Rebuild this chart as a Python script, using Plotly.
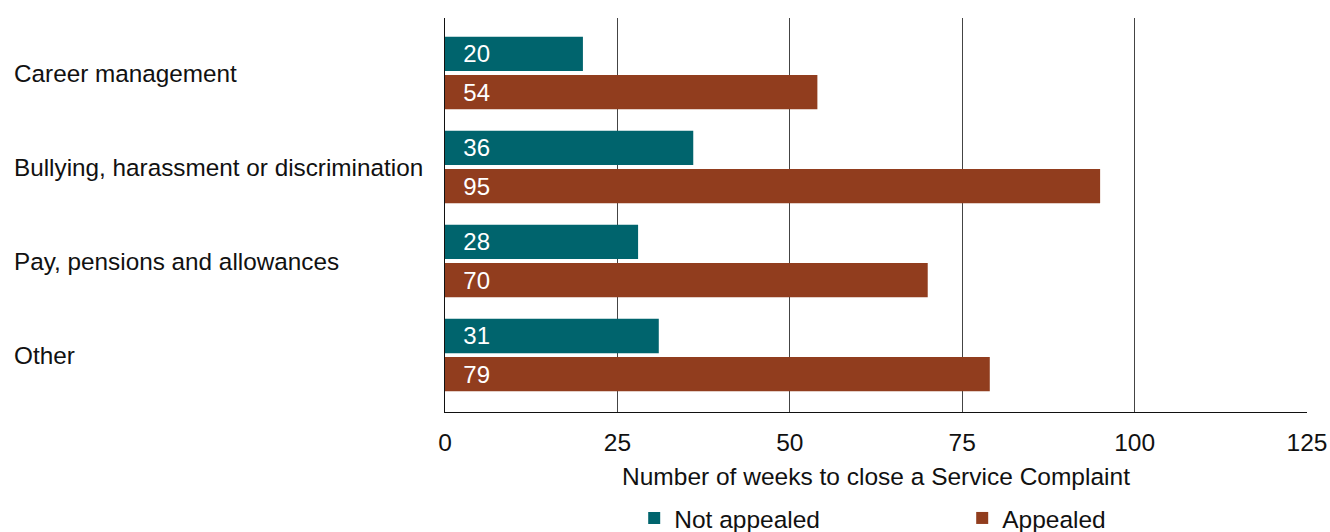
import plotly.graph_objects as go

categories = ["Career management", "Bullying, harassment or discrimination",
              "Pay, pensions and allowances", "Other"]
not_appealed = [20, 36, 28, 31]
appealed = [54, 95, 70, 79]
x_ticks = [0, 25, 50, 75, 100, 125]

TEAL = "#00646d"
BROWN = "#913d1e"
FONT = "Liberation Sans, Arial, sans-serif"
PAD = "\u00a0\u00a0\u200a"

fig = go.Figure()
fig.add_trace(go.Bar(
    y=categories, x=not_appealed, orientation="h", name="Not appealed",
    marker=dict(color=TEAL, line=dict(width=0)),
    text=[PAD + str(v) for v in not_appealed], textposition="inside",
    insidetextanchor="start", textangle=0, constraintext="none",
    textfont=dict(color="white", size=24, family=FONT),
))
fig.add_trace(go.Bar(
    y=categories, x=appealed, orientation="h", name="Appealed",
    marker=dict(color=BROWN, line=dict(width=0)),
    text=[PAD + str(v) for v in appealed], textposition="inside",
    insidetextanchor="start", textangle=0, constraintext="none",
    textfont=dict(color="white", size=24, family=FONT),
))

for i, c in enumerate(categories):
    fig.add_annotation(x=(12 - 445) / 862, xref="paper", y=c, yref="y", text=c,
                       showarrow=False, xanchor="left", yanchor="middle",
                       font=dict(size=24.3, color="#111111", family=FONT))

fig.update_layout(
    width=1330, height=532,
    margin=dict(l=445, r=23, t=18, b=120, autoexpand=False),
    paper_bgcolor="white", plot_bgcolor="white",
    barmode="group", bargap=0.19, bargroupgap=0.1,
    font=dict(family=FONT, size=24.5, color="#111111"),
    showlegend=True,
    legend=dict(orientation="h", x=0.6, xanchor="center", y=-0.212, yanchor="top",
                font=dict(size=24.5, color="#111111"), entrywidth=283,
                itemwidth=30, traceorder="normal"),
    xaxis=dict(range=[0, 125], tickvals=x_ticks, showgrid=True,
               gridcolor="#444444", gridwidth=1, zeroline=False,
               showline=True, linecolor="#111111", linewidth=1, mirror=False,
               ticks="", ticklabelstandoff=9,
               tickfont=dict(size=24.5, color="#111111"),
               title=dict(text="Number of weeks to close a Service Complaint",
                          standoff=12, font=dict(size=24.5, color="#111111"))),
    yaxis=dict(range=[3.606, -0.585], showticklabels=False, showgrid=False,
               zeroline=False, showline=True, linecolor="#111111", linewidth=1,
               ticks=""),
)

fig.write_html("out.html")
